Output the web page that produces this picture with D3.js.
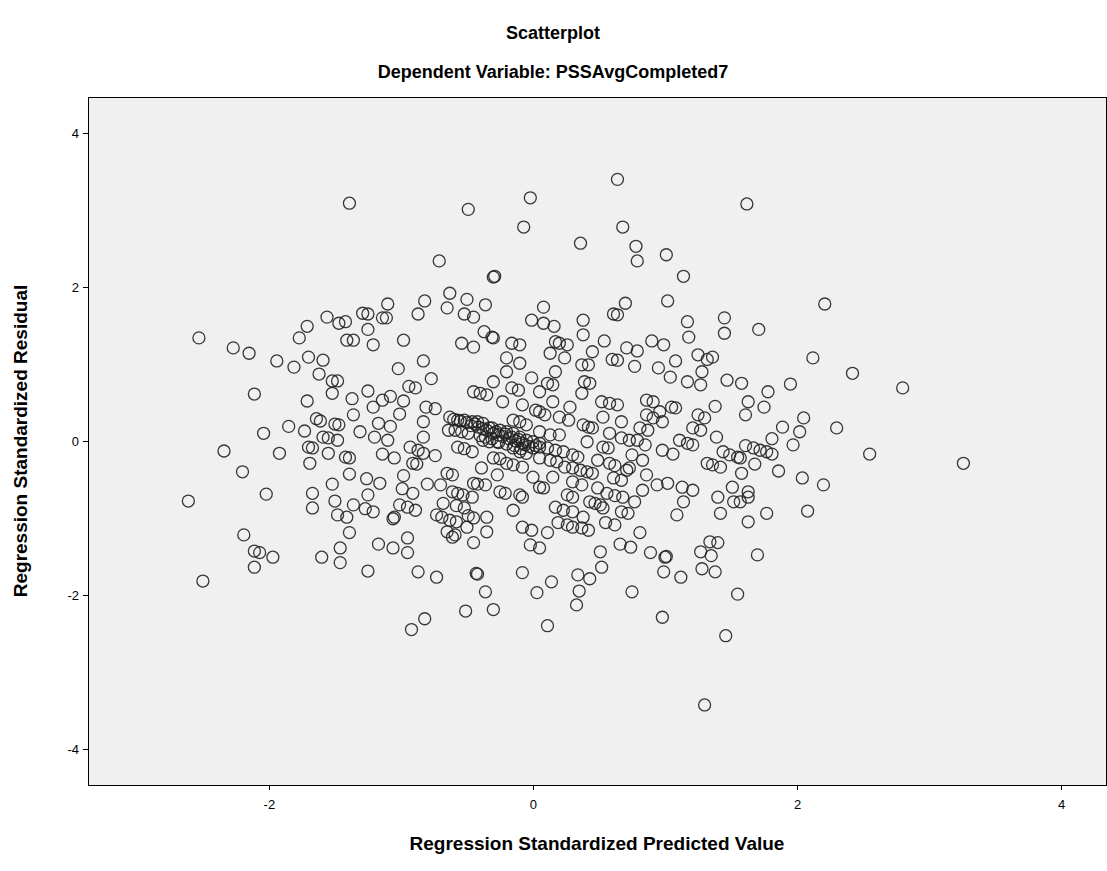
<!DOCTYPE html>
<html>
<head>
<meta charset="utf-8">
<script src="https://cdn.jsdelivr.net/npm/d3@7"></script>
<style>
  html, body { margin: 0; padding: 0; background: #ffffff; }
  svg { display: block; }
  text { font-family: "Liberation Sans", Arial, sans-serif; fill: #000; }
</style>
</head>
<body>
<svg id="chart" width="1107" height="871"></svg>
<script>
const chartTitle = "Scatterplot";
const chartSubtitle = "Dependent Variable: PSSAvgCompleted7";
const xAxisTitle = "Regression Standardized Predicted Value";
const yAxisTitle = "Regression Standardized Residual";
const xTickValues = [-2, 0, 2, 4];
const yTickValues = [-4, -2, 0, 2, 4];
const xDomain = [-3.37, 4.34];
const yDomain = [-4.47, 4.47];

const predicted = [
  0.64,-1.39,-0.49,-0.02,-0.07,0.68,0.36,0.78,0.79,-0.71,
  1.01,-0.30,-0.29,1.14,1.62,2.21,1.71,2.12,1.02,0.70,
  0.61,0.64,0.08,0.08,0.16,0.38,0.38,0.17,0.20,0.26,
  0.54,0.13,0.24,0.45,0.71,0.79,0.90,0.99,1.17,1.18,
  1.45,1.45,1.25,1.32,1.36,1.08,0.60,0.64,-0.20,-0.63,
  -0.82,-1.10,-0.50,-0.36,-0.87,-0.65,-0.52,-0.45,-1.29,-1.25,
  -1.14,-1.11,-1.42,-1.25,-1.41,-1.36,-1.21,-0.98,-0.37,-0.31,
  -0.30,-0.54,-0.45,-0.16,-0.10,-0.01,-0.83,-2.53,-2.27,-2.15,
  -1.94,-1.77,-1.71,-1.56,-1.47,-1.70,-1.59,-1.81,-1.62,-1.52,
  -1.48,-2.11,-1.71,-1.52,-1.64,-1.61,-1.50,-1.47,-1.85,-1.73,
  -2.04,-1.59,-1.55,-1.48,-2.34,-1.92,-1.70,-1.67,-1.55,-1.69,
  -2.20,-1.52,-2.61,-2.02,-1.67,-1.67,-1.50,-1.48,-2.19,-2.50,
  -2.11,-2.07,-1.97,-2.11,-1.60,-1.46,-1.46,-1.17,-1.06,-0.95,
  -0.95,-1.25,-0.87,-0.73,-0.45,-0.61,-0.42,-0.43,-0.36,-0.08,
  -0.02,0.03,-0.51,-0.30,-0.82,-0.92,0.05,0.51,0.66,0.74,
  0.89,1.00,1.01,0.99,1.12,1.27,1.35,1.34,1.40,1.28,
  1.38,0.52,0.34,0.43,0.35,0.33,0.14,0.75,0.11,0.98,
  1.55,1.46,1.30,1.70,2.42,2.80,1.95,1.78,1.58,1.63,
  1.75,1.61,2.05,1.89,2.02,2.30,1.81,1.97,1.61,1.67,
  1.72,1.77,1.81,1.57,2.55,3.26,1.68,1.86,1.58,2.04,
  2.20,1.63,1.63,1.57,1.77,2.08,1.63,0.77,0.95,0.37,
  0.42,0.17,0.11,0.15,0.39,0.43,1.04,1.17,1.27,1.28,
  1.47,0.05,0.37,0.15,0.52,0.58,0.64,0.86,0.91,1.05,
  1.08,0.96,0.28,1.38,0.05,0.09,0.20,0.27,0.53,0.67,
  0.86,0.91,0.98,1.25,1.30,0.81,0.87,0.38,0.42,0.45,
  1.21,1.27,0.58,0.05,0.13,0.20,0.67,0.73,0.79,1.11,
  1.17,1.21,1.39,0.41,0.85,0.05,0.11,0.17,0.23,0.53,
  0.57,0.30,0.34,0.98,1.06,0.75,0.83,1.44,1.49,1.55,
  0.05,0.13,0.18,0.49,0.58,0.62,1.32,1.36,1.42,0.24,
  0.30,0.36,0.41,0.45,0.71,0.73,0.15,0.86,0.05,0.08,
  0.30,0.37,0.61,0.67,0.94,1.02,1.51,0.83,0.49,1.13,
  1.21,0.26,0.30,0.56,0.62,0.68,1.40,1.52,0.43,0.47,
  0.51,0.77,1.14,0.17,0.23,0.30,0.53,0.67,0.72,0.38,
  1.42,1.09,0.19,0.26,0.30,0.37,0.42,0.55,0.62,0.81,
  0.11,-1.02,-0.77,-0.94,-0.89,-1.25,-1.37,-1.08,-1.14,-0.98,
  -1.21,-0.81,-0.74,-1.01,-1.36,-1.17,-1.08,-0.83,-1.31,-1.20,
  -1.10,-0.83,-0.93,-0.87,-0.83,-0.74,-1.14,-1.05,-1.42,-1.39,
  -0.91,-0.88,-1.39,-1.26,-1.16,-0.98,-0.80,-1.25,-0.99,-0.91,
  -1.36,-1.27,-1.21,-1.01,-0.95,-0.89,-1.05,-1.06,-1.41,-1.39,
  -0.45,-0.40,-0.35,-0.30,-0.20,-0.10,-0.01,-0.16,-0.11,-0.23,
  -0.08,0.02,-0.63,-0.57,-0.52,-0.46,-0.42,-0.38,-0.64,-0.59,
  -0.54,-0.49,-0.31,-0.25,-0.20,-0.15,-0.10,-0.05,0.00,0.05,
  -0.15,-0.10,-0.05,-0.38,-0.33,-0.27,-0.57,-0.52,-0.46,-0.15,
  -0.10,-0.05,-0.30,-0.25,-0.20,-0.15,-0.08,-0.39,-0.27,-0.65,
  -0.61,0.00,-0.45,-0.42,-0.36,-0.70,-0.61,-0.57,-0.53,-0.46,
  -0.25,-0.21,-0.10,-0.08,-0.68,-0.58,-0.52,-0.15,-0.73,-0.69,
  -0.63,-0.58,-0.49,-0.45,-0.35,-0.08,-0.01,-0.65,-0.59,-0.35,-0.50,
  -0.60,-0.55,-0.50,-0.47,-0.44,-0.41,-0.38,-0.35,-0.33,-0.30,
  -0.28,-0.26,-0.23,-0.21,-0.18,-0.16,-0.13,-0.11,-0.08,-0.06,
  -0.03,0.00,0.02,-0.40,-0.36,-0.31,-0.26,-0.20,-0.14,-0.09
];

const residual = [
  3.40,3.09,3.01,3.16,2.78,2.78,2.57,2.53,2.34,2.34,
  2.42,2.13,2.14,2.14,3.08,1.78,1.45,1.08,1.82,1.79,
  1.65,1.64,1.74,1.53,1.49,1.57,1.38,1.29,1.27,1.25,
  1.30,1.14,1.08,1.16,1.21,1.17,1.30,1.25,1.55,1.35,
  1.60,1.40,1.12,1.06,1.09,1.04,1.06,1.05,1.08,1.92,
  1.82,1.78,1.84,1.77,1.65,1.73,1.65,1.61,1.66,1.65,
  1.60,1.60,1.55,1.45,1.31,1.31,1.25,1.31,1.42,1.35,
  1.34,1.27,1.22,1.27,1.25,1.57,1.04,1.34,1.21,1.14,
  1.04,1.34,1.49,1.61,1.53,1.09,1.05,0.96,0.87,0.78,
  0.78,0.61,0.52,0.62,0.29,0.26,0.22,0.21,0.19,0.13,
  0.10,0.05,0.04,0.01,-0.13,-0.16,-0.08,-0.09,-0.16,-0.29,
  -0.40,-0.56,-0.78,-0.69,-0.68,-0.87,-0.78,-0.96,-1.22,-1.82,
  -1.43,-1.45,-1.51,-1.64,-1.51,-1.39,-1.58,-1.34,-1.39,-1.45,
  -1.26,-1.69,-1.70,-1.77,-1.32,-1.25,-1.73,-1.72,-1.96,-1.71,
  -1.35,-1.97,-2.21,-2.19,-2.31,-2.45,-1.39,-1.44,-1.34,-1.38,
  -1.45,-1.51,-1.50,-1.70,-1.77,-1.44,-1.49,-1.31,-1.32,-1.66,
  -1.70,-1.64,-1.74,-1.79,-1.95,-2.13,-1.83,-1.96,-2.40,-2.29,
  -1.99,-2.53,-3.43,-1.48,0.88,0.69,0.74,0.64,0.75,0.51,
  0.44,0.34,0.30,0.18,0.12,0.17,0.03,-0.05,-0.06,-0.09,
  -0.12,-0.14,-0.17,-0.22,-0.17,-0.29,-0.30,-0.39,-0.42,-0.48,
  -0.57,-0.66,-0.73,-0.79,-0.94,-0.91,-1.05,0.97,0.95,0.99,
  0.99,0.90,0.75,0.73,0.77,0.75,0.83,0.77,0.73,0.90,
  0.79,0.64,0.62,0.51,0.51,0.49,0.47,0.53,0.51,0.44,
  0.43,0.38,0.44,0.45,0.38,0.34,0.31,0.27,0.31,0.25,
  0.34,0.30,0.25,0.34,0.30,0.17,0.14,0.21,0.18,0.17,
  0.17,0.14,0.10,0.12,0.08,0.08,0.04,0.01,0.01,0.01,
  -0.03,-0.05,0.05,-0.01,-0.05,-0.08,-0.09,-0.12,-0.14,-0.08,
  -0.09,-0.18,-0.21,-0.12,-0.17,-0.18,-0.25,-0.14,-0.18,-0.21,
  -0.22,-0.25,-0.27,-0.25,-0.29,-0.32,-0.29,-0.31,-0.34,-0.34,
  -0.35,-0.38,-0.40,-0.42,-0.38,-0.35,-0.47,-0.44,-0.60,-0.61,
  -0.53,-0.57,-0.48,-0.51,-0.57,-0.55,-0.60,-0.64,-0.61,-0.60,
  -0.64,-0.70,-0.73,-0.68,-0.71,-0.73,-0.73,-0.79,-0.79,-0.81,
  -0.83,-0.79,-0.79,-0.86,-0.90,-0.92,-0.87,-0.92,-0.94,-0.99,
  -0.94,-0.96,-1.06,-1.09,-1.12,-1.13,-1.16,-1.06,-1.09,-1.19,
  -1.19,0.94,0.81,0.71,0.69,0.65,0.55,0.58,0.53,0.52,
  0.44,0.44,0.42,0.35,0.34,0.23,0.19,0.25,0.12,0.05,
  0.01,0.05,-0.08,-0.12,-0.16,-0.19,-0.17,-0.22,-0.21,-0.22,
  -0.29,-0.30,-0.43,-0.49,-0.55,-0.45,-0.56,-0.70,-0.62,-0.68,
  -0.83,-0.88,-0.92,-0.83,-0.86,-0.90,-0.99,-1.01,-0.99,-1.19,
  0.64,0.62,0.60,0.77,0.90,1.01,0.82,0.69,0.66,0.51,
  0.47,0.40,0.31,0.27,0.27,0.25,0.25,0.23,0.14,0.14,
  0.12,0.10,0.17,0.14,0.12,0.10,0.05,0.01,-0.01,-0.03,
  0.27,0.25,0.21,0.01,-0.01,-0.01,-0.08,-0.10,-0.14,-0.09,
  -0.14,-0.16,-0.22,-0.23,-0.29,-0.31,-0.34,-0.35,-0.44,-0.42,
  -0.44,-0.47,-0.55,-0.56,-0.57,-0.57,-0.66,-0.68,-0.70,-0.73,
  -0.66,-0.68,-0.70,-0.73,-0.81,-0.84,-0.87,-0.90,-0.96,-0.99,
  -1.03,-1.05,-0.97,-1.00,-0.99,-1.12,-1.16,-1.18,-1.22,-1.18,-1.12,
  0.28,0.26,0.24,0.20,0.22,0.18,0.16,0.14,0.17,0.10,
  0.12,0.08,0.06,0.09,0.03,0.05,0.00,0.02,-0.03,-0.05,
  -0.07,-0.09,-0.06,0.07,0.05,0.03,-0.02,-0.04,-0.06,-0.10
];

const n = Math.min(predicted.length, residual.length);
const points = d3.range(n).map(i => ({ x: predicted[i], y: residual[i] }));

const svg = d3.select("#chart");
const plot = { left: 88, right: 1106, top: 97, bottom: 785 };

const x = d3.scaleLinear().domain(xDomain).range([plot.left, plot.right]);
const y = d3.scaleLinear().domain(yDomain).range([plot.bottom, plot.top]);

// background
svg.append("rect")
  .attr("x", plot.left).attr("y", plot.top)
  .attr("width", plot.right - plot.left).attr("height", plot.bottom - plot.top)
  .attr("fill", "#f0f0f0")
  .attr("stroke", "#000").attr("stroke-width", 1)
  .attr("shape-rendering", "crispEdges");

// points
svg.append("g")
  .selectAll("circle")
  .data(points)
  .join("circle")
  .attr("cx", d => x(d.x))
  .attr("cy", d => y(d.y))
  .attr("r", 6)
  .attr("fill", "none")
  .attr("stroke", "#222")
  .attr("stroke-width", 1.3)
  .attr("stroke-opacity", 0.9);

// axes (plain hyphen-minus in labels, as in the reference)
const fmt = d => String(d);
const xAxis = d3.axisBottom(x).tickValues(xTickValues).tickSize(5).tickPadding(10).tickFormat(fmt);
const yAxis = d3.axisLeft(y).tickValues(yTickValues).tickSize(5).tickPadding(4).tickFormat(fmt);

const gx = svg.append("g").attr("transform", `translate(0,${plot.bottom})`).call(xAxis);
const gy = svg.append("g").attr("transform", `translate(${plot.left},0)`).call(yAxis);
[gx, gy].forEach(g => {
  g.select(".domain").remove();
  g.selectAll(".tick line").attr("stroke", "#000").attr("shape-rendering", "crispEdges");
  g.selectAll(".tick text")
    .attr("font-family", "'Liberation Sans', Arial, sans-serif")
    .attr("font-size", 13).attr("fill", "#000");
});

// titles
svg.append("text")
  .attr("x", 553).attr("y", 39)
  .attr("text-anchor", "middle")
  .attr("font-size", 18).attr("font-weight", "bold")
  .text(chartTitle);
svg.append("text")
  .attr("x", 553).attr("y", 78)
  .attr("text-anchor", "middle")
  .attr("font-size", 18).attr("font-weight", "bold")
  .text(chartSubtitle);
svg.append("text")
  .attr("x", (plot.left + plot.right) / 2).attr("y", 850)
  .attr("text-anchor", "middle")
  .attr("font-size", 19).attr("font-weight", "bold")
  .text(xAxisTitle);
svg.append("text")
  .attr("transform", `translate(27,${(plot.top + plot.bottom) / 2}) rotate(-90)`)
  .attr("text-anchor", "middle")
  .attr("font-size", 19).attr("font-weight", "bold")
  .text(yAxisTitle);
</script>
</body>
</html>
